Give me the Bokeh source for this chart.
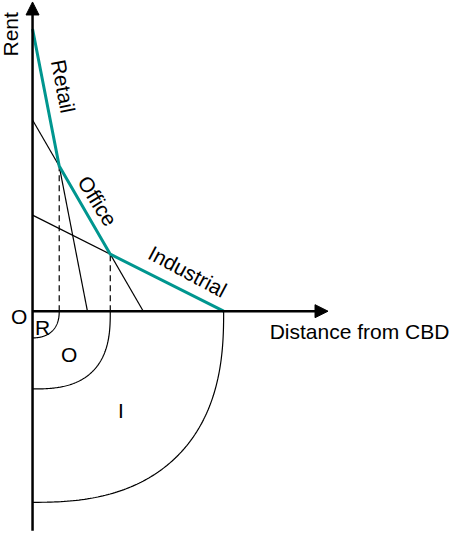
import numpy as np
from bokeh.plotting import figure
from bokeh.models import Range1d, Arrow, NormalHead
from bokeh.core.properties import value
from bokeh.embed import file_html
from bokeh.resources import INLINE

# Bid-rent data (arbitrary units)
uses = ["Retail", "Office", "Industrial"]
rent_at_cbd = [28.8, 19.5, 9.8]      # rent where the bid-rent line meets the Rent axis
max_distance = [5.6, 11.3, 19.5]     # distance where the bid-rent line reaches zero
zone_labels = ["R", "O", "I"]
zone_exponent = [2.3, 2.7, 2.5]      # shape of the zone boundary curves

TEAL = "#00968f"
FONT = value("Liberation Sans")
FS = "21px"

p = figure(width=451, height=531, output_backend="svg", toolbar_location=None,
           x_range=Range1d(-3.27, 42.75), y_range=Range1d(-22.48, 31.7),
           min_border=0)
p.axis.visible = False
p.grid.visible = False
p.outline_line_color = None
p.background_fill_color = "white"


def bid(i, x):
    return rent_at_cbd[i] * (1 - np.asarray(x) / max_distance[i])


# intersections of successive bid-rent lines
cross_x = []
for i in range(len(uses) - 1):
    a1, b1 = rent_at_cbd[i], rent_at_cbd[i] / max_distance[i]
    a2, b2 = rent_at_cbd[i + 1], rent_at_cbd[i + 1] / max_distance[i + 1]
    cross_x.append((a1 - a2) / (b1 - b2))

# black bid-rent lines
for i in range(len(uses)):
    p.line([0, max_distance[i]], [rent_at_cbd[i], 0], line_color="black", line_width=1.2)

# dashed verticals at intersections
for i, cx in enumerate(cross_x):
    p.line([cx, cx], [0, float(bid(i, cx))], line_color="black", line_width=1.2,
           line_dash="6 4")

# teal envelope
env_x = [0.0] + cross_x + [max_distance[-1]]
env_y = [rent_at_cbd[0]] + [float(bid(i, cx)) for i, cx in enumerate(cross_x)] + [0.0]
p.line(env_x, env_y, line_color=TEAL, line_width=3)

# zone boundaries below the axis
zone_radius = cross_x + [max_distance[-1]]
t = np.linspace(0, np.pi / 2, 120)
for r, n in zip(zone_radius, zone_exponent):
    xs = r * np.cos(t) ** (2 / n)
    ys = -r * np.sin(t) ** (2 / n)
    p.line(xs, ys, line_color="black", line_width=1.2)

# axes with arrow heads
p.add_layout(Arrow(end=NormalHead(size=13, fill_color="black", line_color="black"),
                   x_start=0, y_start=-22.4, x_end=0, y_end=31.55,
                   line_width=2.5, line_color="black"))
p.add_layout(Arrow(end=NormalHead(size=13, fill_color="black", line_color="black"),
                   x_start=0, y_start=0, x_end=30.15, y_end=0,
                   line_width=2.5, line_color="black"))

# texts
p.text(x=[-2.27], y=[28.25], text=["Rent"], angle=np.pi / 2, text_align="center",
       text_baseline="middle", text_font=FONT, text_font_size=FS, text_color="black")
p.text(x=[24.2], y=[-2.05], text=["Distance from CBD"], text_align="left",
       text_baseline="middle", text_font=FONT, text_font_size=FS, text_color="black")
p.text(x=[-1.37], y=[-0.55], text=["O"], text_align="center",
       text_baseline="middle", text_font=FONT, text_font_size=FS, text_color="black")

label_x = [3.13, 6.63, 15.83]
label_y = [22.95, 11.25, 4.05]
label_angle_deg = [-79, -58, -28]
p.text(x=label_x, y=label_y, text=uses, angle=[np.deg2rad(a) for a in label_angle_deg],
       text_align="center", text_baseline="middle", text_font=FONT,
       text_font_size=FS, text_color="black")

zone_lx = [1.03, 3.73, 9.03]
zone_ly = [-1.65, -4.45, -10.15]
p.text(x=zone_lx, y=zone_ly, text=zone_labels, text_align="center",
       text_baseline="middle", text_font=FONT, text_font_size=FS, text_color="black")

open("out.html", "w").write(file_html(p, INLINE))
